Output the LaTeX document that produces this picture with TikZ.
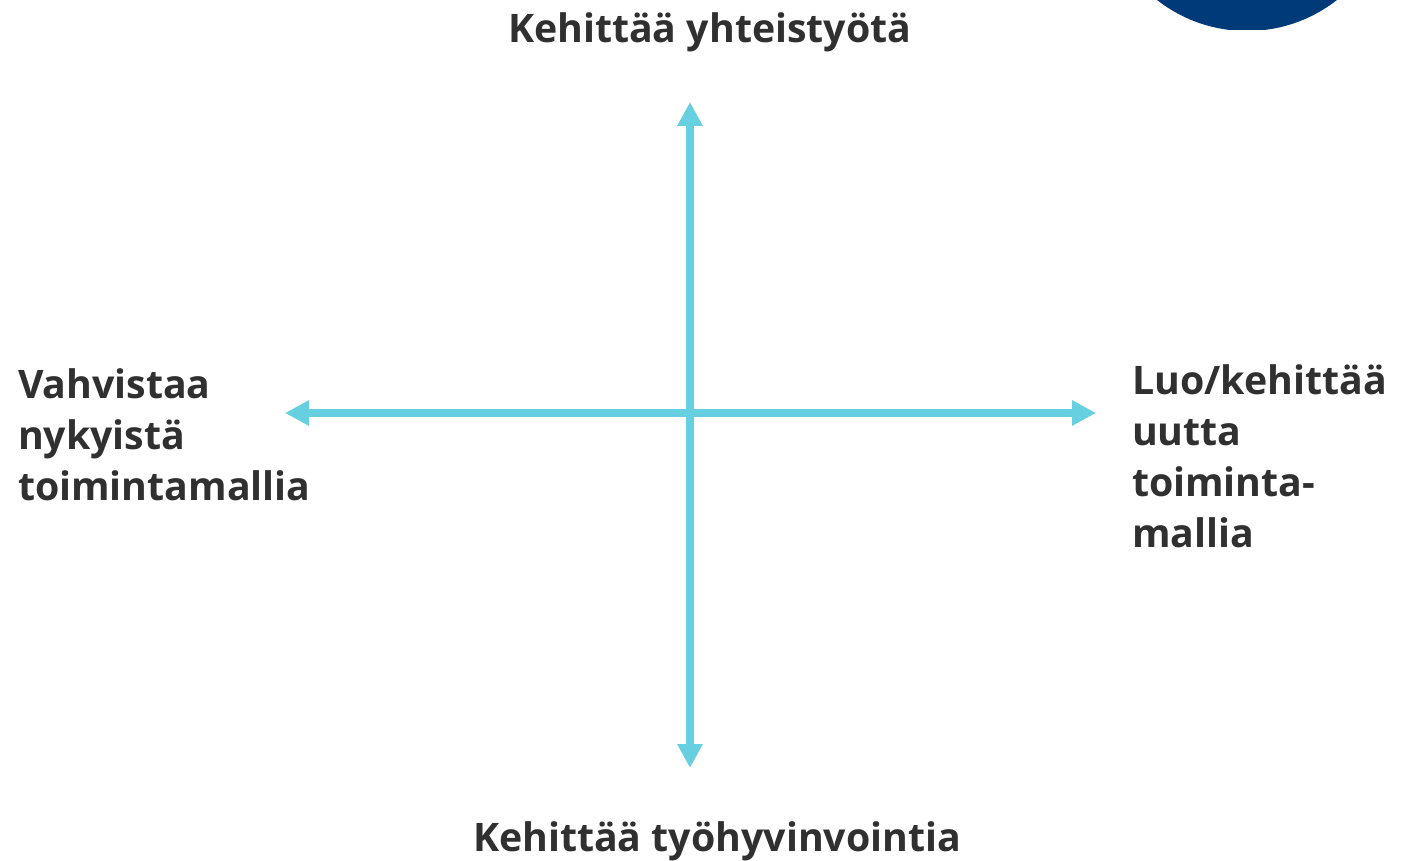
\documentclass[tikz,border=0pt]{standalone}
\usepackage{fontspec}
\setmainfont{Open Sans}
\usetikzlibrary{arrows.meta}
\definecolor{axiscol}{HTML}{66D0E0}
\definecolor{textcol}{HTML}{303030}
\definecolor{logoblue}{HTML}{003A78}
\tikzset{
  axis/.style={draw=axiscol,line width=8pt,{Triangle[length=24pt,width=24pt]}-{Triangle[length=24pt,width=24pt]},shorten <=0pt,shorten >=0pt},
  lab/.style={inner sep=0pt,outer sep=0pt,text=textcol,font=\fontsize{39.3}{51}\selectfont\bfseries,anchor=base west,align=left}
}
\begin{document}
\begin{tikzpicture}[x=1pt,y=-1pt]
\useasboundingbox (0,0) rectangle (1409,861);
\begin{scope}
\clip (1100,0) rectangle (1409,30);
\fill[logoblue] (1247,-115) circle (146pt);
\end{scope}
\coordinate (top) at (690,102);
\coordinate (bottom) at (690,768);
\coordinate (left) at (285,413);
\coordinate (right) at (1096,413);
\draw[axis] (left) -- (right);
\draw[axis] (top) -- (bottom);
\node[lab] (n) at (508,43) {Kehittää yhteistyötä};
\node[lab] (s) at (473,851) {Kehittää työhyvinvointia};
\node[lab,anchor=north west] (w) at (18,369) {Vahvistaa\\nykyistä\\toimintamallia};
\node[lab,anchor=north west] (e) at (1132,365) {Luo/kehittää\\uutta\\toiminta-\\mallia};
\end{tikzpicture}
\end{document}
